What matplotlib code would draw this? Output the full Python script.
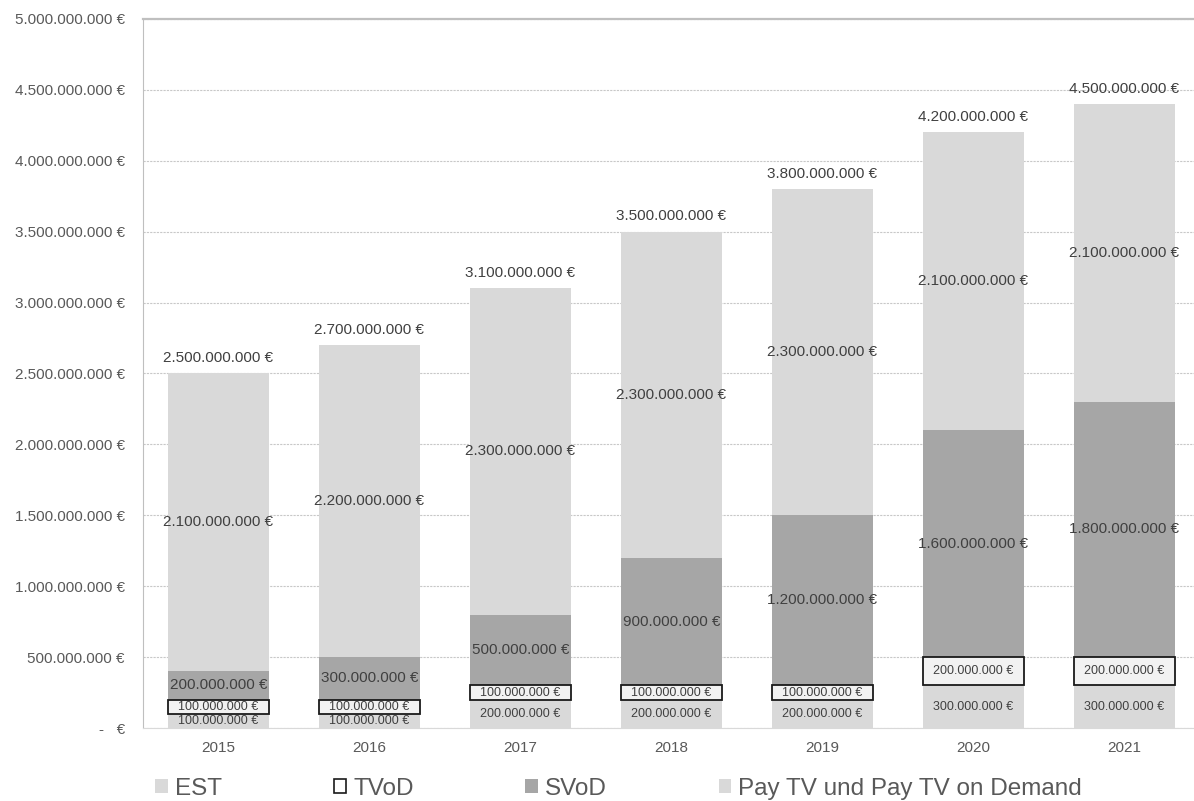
import matplotlib
matplotlib.use('Agg')
import matplotlib.pyplot as plt
from matplotlib.patches import Patch

plt.rcParams['font.family'] = ['Liberation Sans', 'DejaVu Sans']

years = ['2015', '2016', '2017', '2018', '2019', '2020', '2021']
est = [100e6, 100e6, 200e6, 200e6, 200e6, 300e6, 300e6]
tvod = [100e6, 100e6, 100e6, 100e6, 100e6, 200e6, 200e6]
svod = [200e6, 300e6, 500e6, 900e6, 1200e6, 1600e6, 1800e6]
paytv = [2100e6, 2200e6, 2300e6, 2300e6, 2300e6, 2100e6, 2100e6]
total_labels = [2500e6, 2700e6, 3100e6, 3500e6, 3800e6, 4200e6, 4500e6]
series_names = ['EST', 'TVoD', 'SVoD', 'Pay TV und Pay TV on Demand']
y_ticks = [i * 500e6 for i in range(11)]


def fmt(v):
    if v == 0:
        return '-   €'
    return f"{int(round(v)):,}".replace(',', '.') + ' €'


fig = plt.figure(figsize=(11.94, 8.01), dpi=100)
ax = fig.add_axes([143 / 1194, 73 / 801, 1057 / 1194, 709 / 801])

x = list(range(len(years)))
w = 0.67
c_light = '#d9d9d9'
c_dark = '#a6a6a6'
c_tv = '#f2f2f2'
txt = '#404040'

b_est = ax.bar(x, est, w, color=c_light, zorder=2)
bottom1 = est
b_tv = ax.bar(x, tvod, w, bottom=bottom1, color=c_tv, edgecolor='#1a1a1a',
              linewidth=1.3, zorder=3)
bottom2 = [a + b for a, b in zip(est, tvod)]
b_sv = ax.bar(x, svod, w, bottom=bottom2, color=c_dark, zorder=2)
bottom3 = [a + b for a, b in zip(bottom2, svod)]
b_pt = ax.bar(x, paytv, w, bottom=bottom3, color=c_light, zorder=2)
tops = [a + b for a, b in zip(bottom3, paytv)]

ax.bar_label(b_est, labels=[fmt(v) for v in est], label_type='center',
             fontsize=9, color=txt, zorder=4)
ax.bar_label(b_tv, labels=[fmt(v) for v in tvod], label_type='center',
             fontsize=9, color=txt, zorder=4)
ax.bar_label(b_sv, labels=[fmt(v) for v in svod], label_type='center',
             fontsize=11, color=txt, zorder=4)
ax.bar_label(b_pt, labels=[fmt(v) for v in paytv], label_type='center',
             fontsize=11, color=txt, zorder=4)
for xi, t, lab in zip(x, tops, total_labels):
    ax.annotate(fmt(lab), (xi, t), xytext=(0, 6), textcoords='offset points',
                ha='center', va='bottom', fontsize=11, color=txt)

ax.set_xlim(-0.5, 6.5)
ax.set_ylim(0, 5e9)
ax.set_yticks(y_ticks)
ax.set_yticklabels([fmt(v) for v in y_ticks])
ax.set_xticks(x)
ax.set_xticklabels(years)
ax.tick_params(axis='y', length=0, pad=13, labelsize=11, labelcolor='#595959')
ax.tick_params(axis='x', length=0, pad=9, labelsize=11, labelcolor='#595959')

ax.set_axisbelow(True)
ax.yaxis.grid(True, linestyle=(0, (2, 1)), color='#c8c8c8', linewidth=0.8)
ax.spines['left'].set_color('#bfbfbf')
ax.spines['top'].set_color('#bfbfbf')
ax.spines['top'].set_linewidth(1.6)
ax.spines['bottom'].set_color('#d9d9d9')
ax.spines['right'].set_visible(False)

handles = [Patch(facecolor=c_light), Patch(facecolor='white', edgecolor='#1a1a1a', linewidth=1.2),
           Patch(facecolor=c_dark), Patch(facecolor=c_light)]
fig.legend(handles, series_names, loc='center left', bbox_to_anchor=(0.12, 0.015),
           ncol=4, frameon=False, fontsize=17.5, handlelength=0.5, handleheight=0.5,
           handletextpad=0.3, columnspacing=4.6, labelcolor='#595959', borderpad=0)

fig.savefig('out.png', dpi=100)
